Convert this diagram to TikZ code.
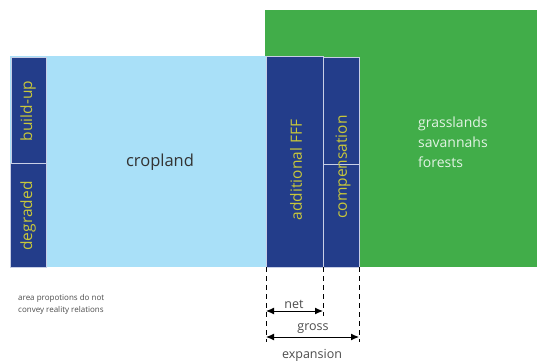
\documentclass[tikz,border=0pt]{standalone}
\usepackage{fontspec}
\setmainfont{Open Sans}
\usetikzlibrary{arrows.meta}
\definecolor{grn}{HTML}{41AD49}
\definecolor{lblue}{HTML}{A9E0F8}
\definecolor{dblue}{HTML}{233D8A}
\definecolor{ylw}{HTML}{C9C83A}
\definecolor{edge}{HTML}{C8CFE6}
\begin{document}
\begin{tikzpicture}[x=1pt,y=-1pt,
  box/.style={draw=edge,line width=0.8pt,fill=dblue},
  vlabel/.style={text=ylw,font=\fontsize{15.5}{17}\selectfont,rotate=90,inner sep=0pt},
  dim/.style={line width=1pt,dash pattern=on 5pt off 4pt},
  dimarrow/.style={{Latex[length=8pt,width=7pt]}-{Latex[length=8pt,width=7pt]},line width=1pt},
  dimlabel/.style={font=\fontsize{12.5}{14}\selectfont,text=black!70,inner sep=0pt}]
\useasboundingbox (0,0) rectangle (537,361);
\fill[grn] (265,10) rectangle (537,267);
\fill[lblue] (10,56) rectangle (266,267);
\draw[box] (11,57) rectangle (46,163);
\draw[box] (10,163) rectangle (46,267);
\draw[box] (266,56) rectangle (323,267);
\draw[box] (323,57) rectangle (359,267);
\draw[edge,line width=0.8pt] (323,164) -- (359,164);
\node[vlabel] (bu) at (28,111) {build-up};
\node[vlabel] (dg) at (28,216) {degraded};
\node[vlabel] (af) at (296,170) {additional FFF};
\node[vlabel] (cp) at (343,167) {compensation};
\node[font=\fontsize{16.5}{20}\selectfont,text=black!80] (crop) at (160,162) {cropland};
\node[font=\fontsize{14}{20}\selectfont,text=white!85!grn,align=left,anchor=west,inner sep=0pt] (grs) at (418,142) {grasslands\\savannahs\\forests};
\node[font=\fontsize{8}{12}\selectfont,text=black!70,align=left,anchor=west,inner sep=0pt] (note) at (18,304) {area propotions do not\\convey reality relations};
\coordinate (a0) at (266,267);
\coordinate (a1) at (266,342);
\coordinate (b0) at (323,267);
\coordinate (b1) at (323,316);
\coordinate (c0) at (359,267);
\coordinate (c1) at (359,342);
\draw[dim] (a0) -- (a1);
\draw[dim] (b0) -- (b1);
\draw[dim] (c0) -- (c1);
\coordinate (n0) at (266,311);
\coordinate (n1) at (323,311);
\coordinate (g0) at (266,337);
\coordinate (g1) at (359,337);
\draw[dimarrow] (n0) -- (n1);
\draw[dimarrow] (g0) -- (g1);
\node[dimlabel] (net) at (294,304) {net};
\node[dimlabel] (gross) at (313,329) {gross};
\node[dimlabel] (exp) at (312,355) {expansion};
\end{tikzpicture}
\end{document}
